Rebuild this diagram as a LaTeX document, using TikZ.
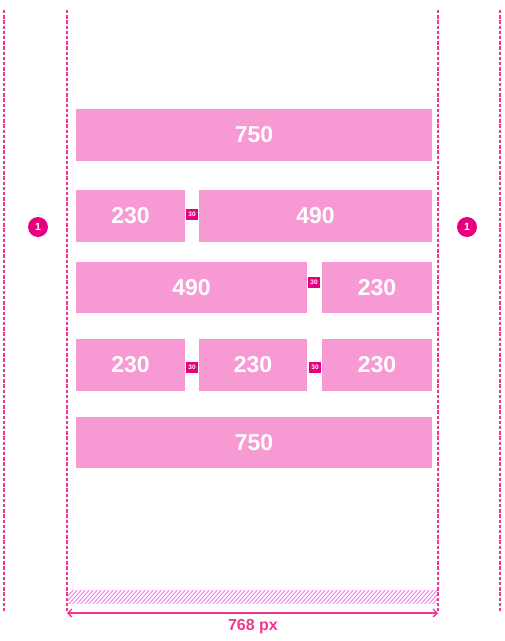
\documentclass[tikz,border=0pt]{standalone}
\usepackage{fontspec}
\setmainfont{Liberation Sans}
\usetikzlibrary{arrows.meta}
\definecolor{boxpink}{HTML}{F79AD3}
\definecolor{hot}{HTML}{F0368E}
\definecolor{mag}{HTML}{E6007E}
\definecolor{hatch}{HTML}{F07FEA}
\tikzset{
  blk/.style={fill=boxpink, draw=none, inner sep=0pt, text=white, font=\bfseries\fontsize{23}{23}\selectfont},
  gapsq/.style={fill=mag, draw=none, inner sep=0pt, minimum width=12pt, minimum height=11pt, text=white, font=\bfseries\fontsize{6.5}{6.5}\selectfont},
  guide/.style={draw=hot, line width=1.7pt, dash pattern=on 3.3pt off 1.9pt},
  badge/.style={circle, fill=mag, draw=none, inner sep=0pt, minimum size=20pt, text=white, font=\bfseries\fontsize{10.5}{10.5}\selectfont},
  dimarrow/.style={draw=hot, line width=1.3pt, {Straight Barb[length=4pt,width=8pt]}-{Straight Barb[length=4pt,width=8pt]}},
}
\begin{document}
\begin{tikzpicture}[x=1pt,y=-1pt]
\useasboundingbox (0,0) rectangle (505,641);
\fill[white] (0,0) rectangle (505,641);
% guides
\draw[guide] (4,10) -- (4,613);
\draw[guide] (67,10) -- (67,613);
\draw[guide] (438,10) -- (438,613);
\draw[guide] (500,10) -- (500,613);
% hatch band
\begin{scope}
\clip (68,590) rectangle (437,603);
\foreach \i in {0,4,...,400} {
  \draw[hatch, line width=0.9pt] (60+\i,605) -- (75+\i,588);
}
\end{scope}
% rows
\node[blk, minimum width=356pt, minimum height=52pt] (r1) at (254,135) {750};
\node[blk, minimum width=109pt, minimum height=52pt] (r2a) at (130.5,216) {230};
\node[blk, minimum width=233pt, minimum height=52pt] (r2b) at (315.5,216) {490};
\node[blk, minimum width=231pt, minimum height=51pt] (r3a) at (191.5,287.5) {490};
\node[blk, minimum width=110pt, minimum height=51pt] (r3b) at (377,287.5) {230};
\node[blk, minimum width=109pt, minimum height=52pt] (r4a) at (130.5,365) {230};
\node[blk, minimum width=108pt, minimum height=52pt] (r4b) at (253,365) {230};
\node[blk, minimum width=110pt, minimum height=52pt] (r4c) at (377,365) {230};
\node[blk, minimum width=356pt, minimum height=51pt] (r5) at (254,442.5) {750};
% gap markers
\node[gapsq] (g2) at (192,214) {30};
\node[gapsq] (g3) at (314,282) {30};
\node[gapsq] (g4a) at (192,367) {30};
\node[gapsq] (g4b) at (315,367) {30};
% badges
\node[badge] (b1) at (38,227) {1};
\node[badge] (b2) at (467,227) {1};
% dimension
\coordinate (dl) at (67,613);
\coordinate (dr) at (438,613);
\draw[dimarrow] (dl) -- (dr);
\node[text=hot, font=\bfseries\fontsize{16}{16}\selectfont] (dim) at (253,627) {768 px};
\end{tikzpicture}
\end{document}
